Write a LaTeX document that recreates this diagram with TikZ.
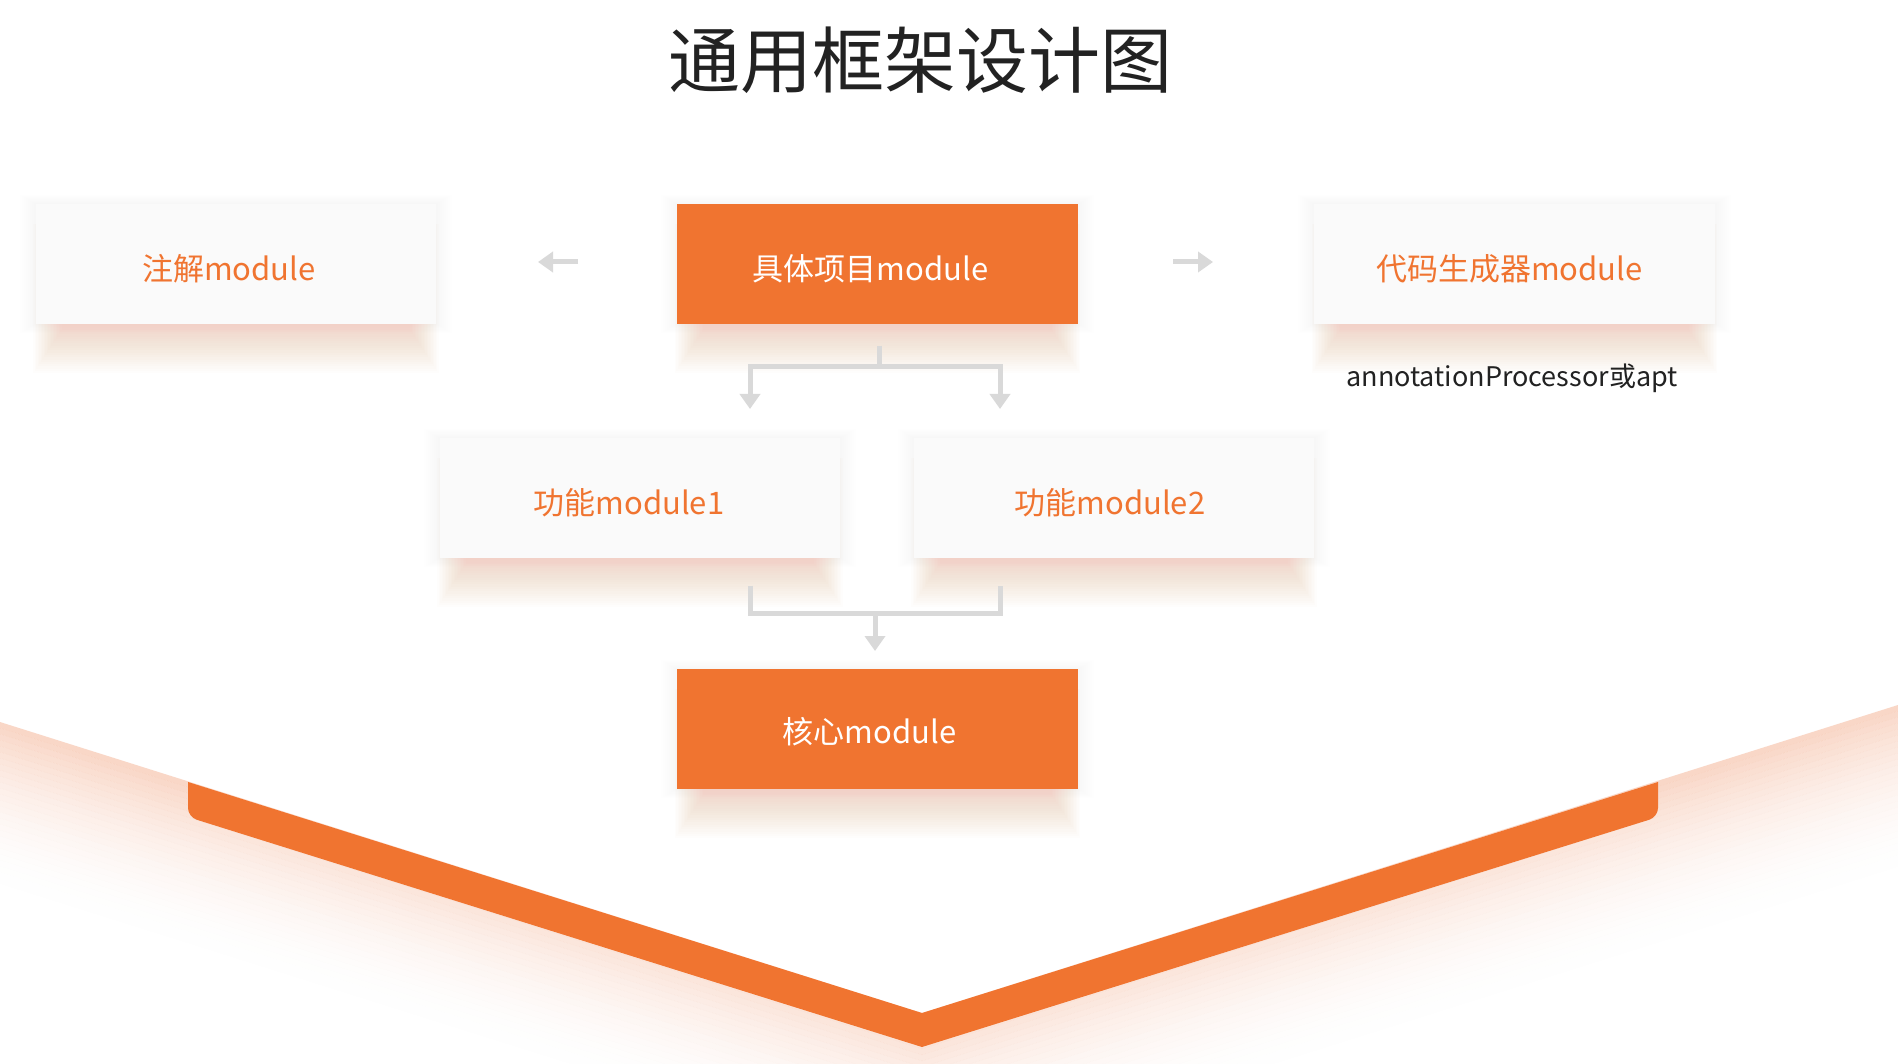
\documentclass[tikz,border=0pt]{standalone}
\usepackage{fontspec}
\setmainfont{Noto Sans CJK SC}
\usetikzlibrary{arrows.meta,calc,backgrounds}
\definecolor{brand}{HTML}{F07430}
\definecolor{glow}{HTML}{F2A07A}
\definecolor{lightbox}{HTML}{FAFAFA}
\definecolor{conn}{HTML}{D9D9D9}
\definecolor{ink}{HTML}{222222}
\begin{document}
\begin{tikzpicture}[x=1pt,y=-1pt,
  lbox/.style={rectangle,fill=lightbox,minimum width=400pt,minimum height=119pt,inner sep=0pt},
  obox/.style={rectangle,fill=brand,minimum width=400pt,minimum height=119pt,inner sep=0pt},
  ltext/.style={text=brand,font=\fontsize{31}{36}\selectfont,yshift=-5pt},
  otext/.style={text=white,font=\fontsize{31}{36}\selectfont,yshift=-5pt},
  conline/.style={draw=conn,line width=5pt},
  conarrow/.style={draw=conn,line width=5pt,-{Triangle[width=20pt,length=15pt]}},
]
\useasboundingbox (0,0) rectangle (1898,1064);

% title
\node[text=ink,font=\fontsize{72}{80}\selectfont] (title) at (920,60) {通用框架设计图};

% boxes
\node[lbox,label={[ltext,xshift=-7pt]center:注解module}] (anno) at (236,264) {};
\node[obox,label={[otext,xshift=-7pt]center:具体项目module}] (proj) at (877.5,264) {};
\node[lbox,label={[ltext,xshift=-5pt]center:代码生成器module}] (gen) at (1514.5,264) {};
\node[lbox,label={[ltext,xshift=-11pt]center:功能module1}] (f1) at (640,498) {};
\node[lbox,label={[ltext,xshift=-4pt]center:功能module2}] (f2) at (1114,498) {};
\node[obox,label={[otext,xshift=-8pt,yshift=2pt]center:核心module}] (core) at (877.5,729) {};
\node[text=ink,font=\fontsize{27}{32}\selectfont] (apt) at (1512,378) {annotationProcessor或apt};

\begin{scope}[on background layer]
  \fill[white] (0,0) rectangle (1898,1064);
  % big V glow
  \foreach \d in {0,6,...,162} {
    \pgfmathsetmacro{\op}{0.42*(1-\d/168)^2}
    \fill[glow,fill opacity=\op] (0,722+\d) -- (922,1013+\d) -- (1898,705+\d) -- (1898,711+\d) -- (922,1019+\d) -- (0,728+\d) -- cycle;
  }
  % faint halo around boxes
  \foreach \n in {anno,proj,gen,f1,f2,core} {
    \foreach \s in {2,4,...,16} {
      \fill[black,fill opacity=0.0035] ($(\n.north west)+(-\s,-\s*0.6)$) rectangle ($(\n.south east)+(\s,\s*0.6)$);
    }
  }
  % soft warm shadows beneath boxes
  \foreach \n in {anno,proj,gen,f1,f2,core} {
    \foreach \s in {0,2,...,38} {
      \fill[glow,fill opacity=0.02] ($(\n.north west)+(-\s*0.75+26,20)$) rectangle ($(\n.south east)+(\s*0.75-26,6+\s*1.15)$);
    }
  }
  \foreach \n in {anno,gen,f1,f2} {
    \fill[lightbox] (\n.north west) rectangle (\n.south east);
  }
  \foreach \n in {proj,core} {
    \fill[brand] (\n.north west) rectangle (\n.south east);
  }
\end{scope}

% orange V band
\fill[brand] (188,782) -- (922,1013) -- (1658,782)
  [rounded corners=9pt] -- (1658,817) [sharp corners] -- (922,1047)
  [rounded corners=9pt] -- (188,817) [sharp corners] -- cycle;

% side arrows
\coordinate (la1) at (578,262);
\coordinate (la2) at (538,262);
\coordinate (ra1) at (1173,262);
\coordinate (ra2) at (1213,262);
\draw[conarrow] (la1) -- (la2);
\draw[conarrow] (ra1) -- (ra2);

% top branch
\coordinate (t0) at ($(proj.south)+(1.5,22)$);
\coordinate (t1) at (879,367);
\coordinate (tl) at (750,367);
\coordinate (tr) at (1000,367);
\coordinate (tle) at (750,409);
\coordinate (tre) at (1000,409);
\draw[conline] (t0) -- (t1);
\draw[conline,line cap=rect] (tl) -- (tr);
\draw[conarrow] (tl) -- (tle);
\draw[conarrow] (tr) -- (tre);

% bottom branch
\coordinate (b1) at ($(f1.south)+(110,28)$);
\coordinate (b2) at ($(f2.south)+(-114,28)$);
\coordinate (bl) at (750,613);
\coordinate (br) at (1000,613);
\coordinate (bm) at (875,613);
\coordinate (be) at (875,651);
\draw[conline,line join=miter] (b1) -- (bl) -- (br) -- (b2);
\draw[conarrow] (bm) -- (be);
\end{tikzpicture}
\end{document}
